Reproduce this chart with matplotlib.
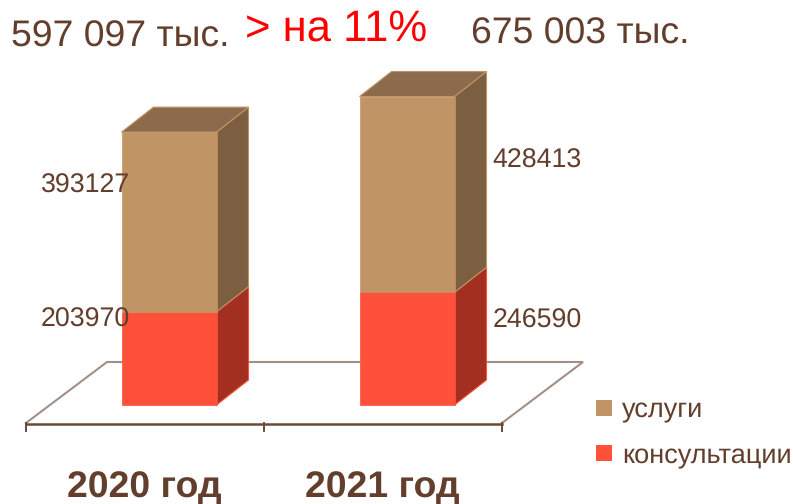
import matplotlib
matplotlib.use('Agg')
import matplotlib.pyplot as plt
from matplotlib.patches import Polygon, Rectangle
from matplotlib.transforms import Affine2D

years = ['2020 год', '2021 год']
uslugi = [393127, 428413]
konsult = [203970, 246590]
totals = ['597 097 тыс.', '675 003 тыс.']
growth = '> на 11%'
legend_names = ['услуги', 'консультации']

W, H = 793, 504
BROWN = '#633e2c'
TAN, TAN_SIDE, TAN_TOP = '#c19466', '#7c5e41', '#8c6b4c'
RED, RED_SIDE = '#ff5039', '#a32f20'

plt.rcParams['font.family'] = ['Liberation Sans', 'DejaVu Sans']
plt.rcParams['text.hinting'] = 'no_hinting'

# scale of the plot, in pixels
x0_px, x_step = 169, 238
y0_px, y_k = 405, 0.000457

fig = plt.figure(figsize=(W / 100, H / 100), dpi=100)
ax = fig.add_axes([0, 0, 1, 1])
ax.set_xlim((0 - x0_px) / x_step, (W - x0_px) / x_step)
ax.set_ylim((y0_px - H) / y_k, y0_px / y_k)
ax.axis('off')

# pixel coords, origin top left, for the floor and the text
px = Affine2D().scale(1, -1).translate(0, H)

bar_w = 95 / x_step
dx = 32 / x_step
dy = 25 / y_k


def box(x, bottom, height, front, side, top=None):
    l, r = x - bar_w / 2, x + bar_w / 2
    t = bottom + height
    ax.add_patch(Polygon([(r, bottom), (r + dx, bottom + dy), (r + dx, t + dy), (r, t)],
                         fc=side, ec=front, lw=0.8, zorder=3))
    if top:
        ax.add_patch(Polygon([(l, t), (l + dx, t + dy), (r + dx, t + dy), (r, t)],
                             fc=top, ec=front, lw=0.8, zorder=3))
    ax.add_patch(Rectangle((l, bottom), bar_w, height, fc=front, ec=front, lw=0.5, zorder=4))


# floor
ax.plot([26, 107, 583, 502], [423, 362, 362, 423], color='#a09088', lw=1.5,
        transform=px, zorder=1, solid_joinstyle='miter')
ax.plot([26, 502], [423.5, 423.5], color='#6b4a38', lw=1.8, transform=px, zorder=2)
for tx in [26, 264, 502]:
    ax.plot([tx, tx], [423, 431], color='#6b4a38', lw=1.4, transform=px, zorder=2)

for i in range(len(years)):
    box(i, 0, konsult[i], RED, RED_SIDE)
    box(i, konsult[i], uslugi[i], TAN, TAN_SIDE, TAN_TOP)

# value labels
ax.text(40.5, 193, str(uslugi[0]), transform=px, fontsize=19.3, color=BROWN, va='baseline', zorder=6)
ax.text(40.5, 327, str(konsult[0]), transform=px, fontsize=19.3, color=BROWN, va='baseline', zorder=6)
ax.text(492.5, 168, str(uslugi[1]), transform=px, fontsize=19.3, color=BROWN, va='baseline', zorder=6)
ax.text(492.5, 328, str(konsult[1]), transform=px, fontsize=19.3, color=BROWN, va='baseline', zorder=6)

# category labels
ax.text(144, 498, years[0], transform=px, fontsize=26.9, fontweight='bold', color=BROWN,
        ha='center', va='baseline')
ax.text(382, 498, years[1], transform=px, fontsize=26.9, fontweight='bold', color=BROWN,
        ha='center', va='baseline')

# headline
ax.text(11, 47, totals[0], transform=px, fontsize=26.9, color=BROWN, va='baseline')
ax.text(471, 44, totals[1], transform=px, fontsize=26.9, color=BROWN, va='baseline')
ax.text(245, 41, growth, transform=px, fontsize=31.4, color='#ff0000', va='baseline')

# legend
ax.add_patch(Rectangle((596, 400), 16, 16, fc=TAN, ec='none', transform=px))
ax.add_patch(Rectangle((596, 445), 16, 16, fc=RED, ec='none', transform=px))
ax.text(622, 417, legend_names[0], transform=px, fontsize=19.5, color=BROWN, va='baseline')
ax.text(622, 463, legend_names[1], transform=px, fontsize=19.5, color=BROWN, va='baseline')

fig.savefig('out.png', dpi=100)
